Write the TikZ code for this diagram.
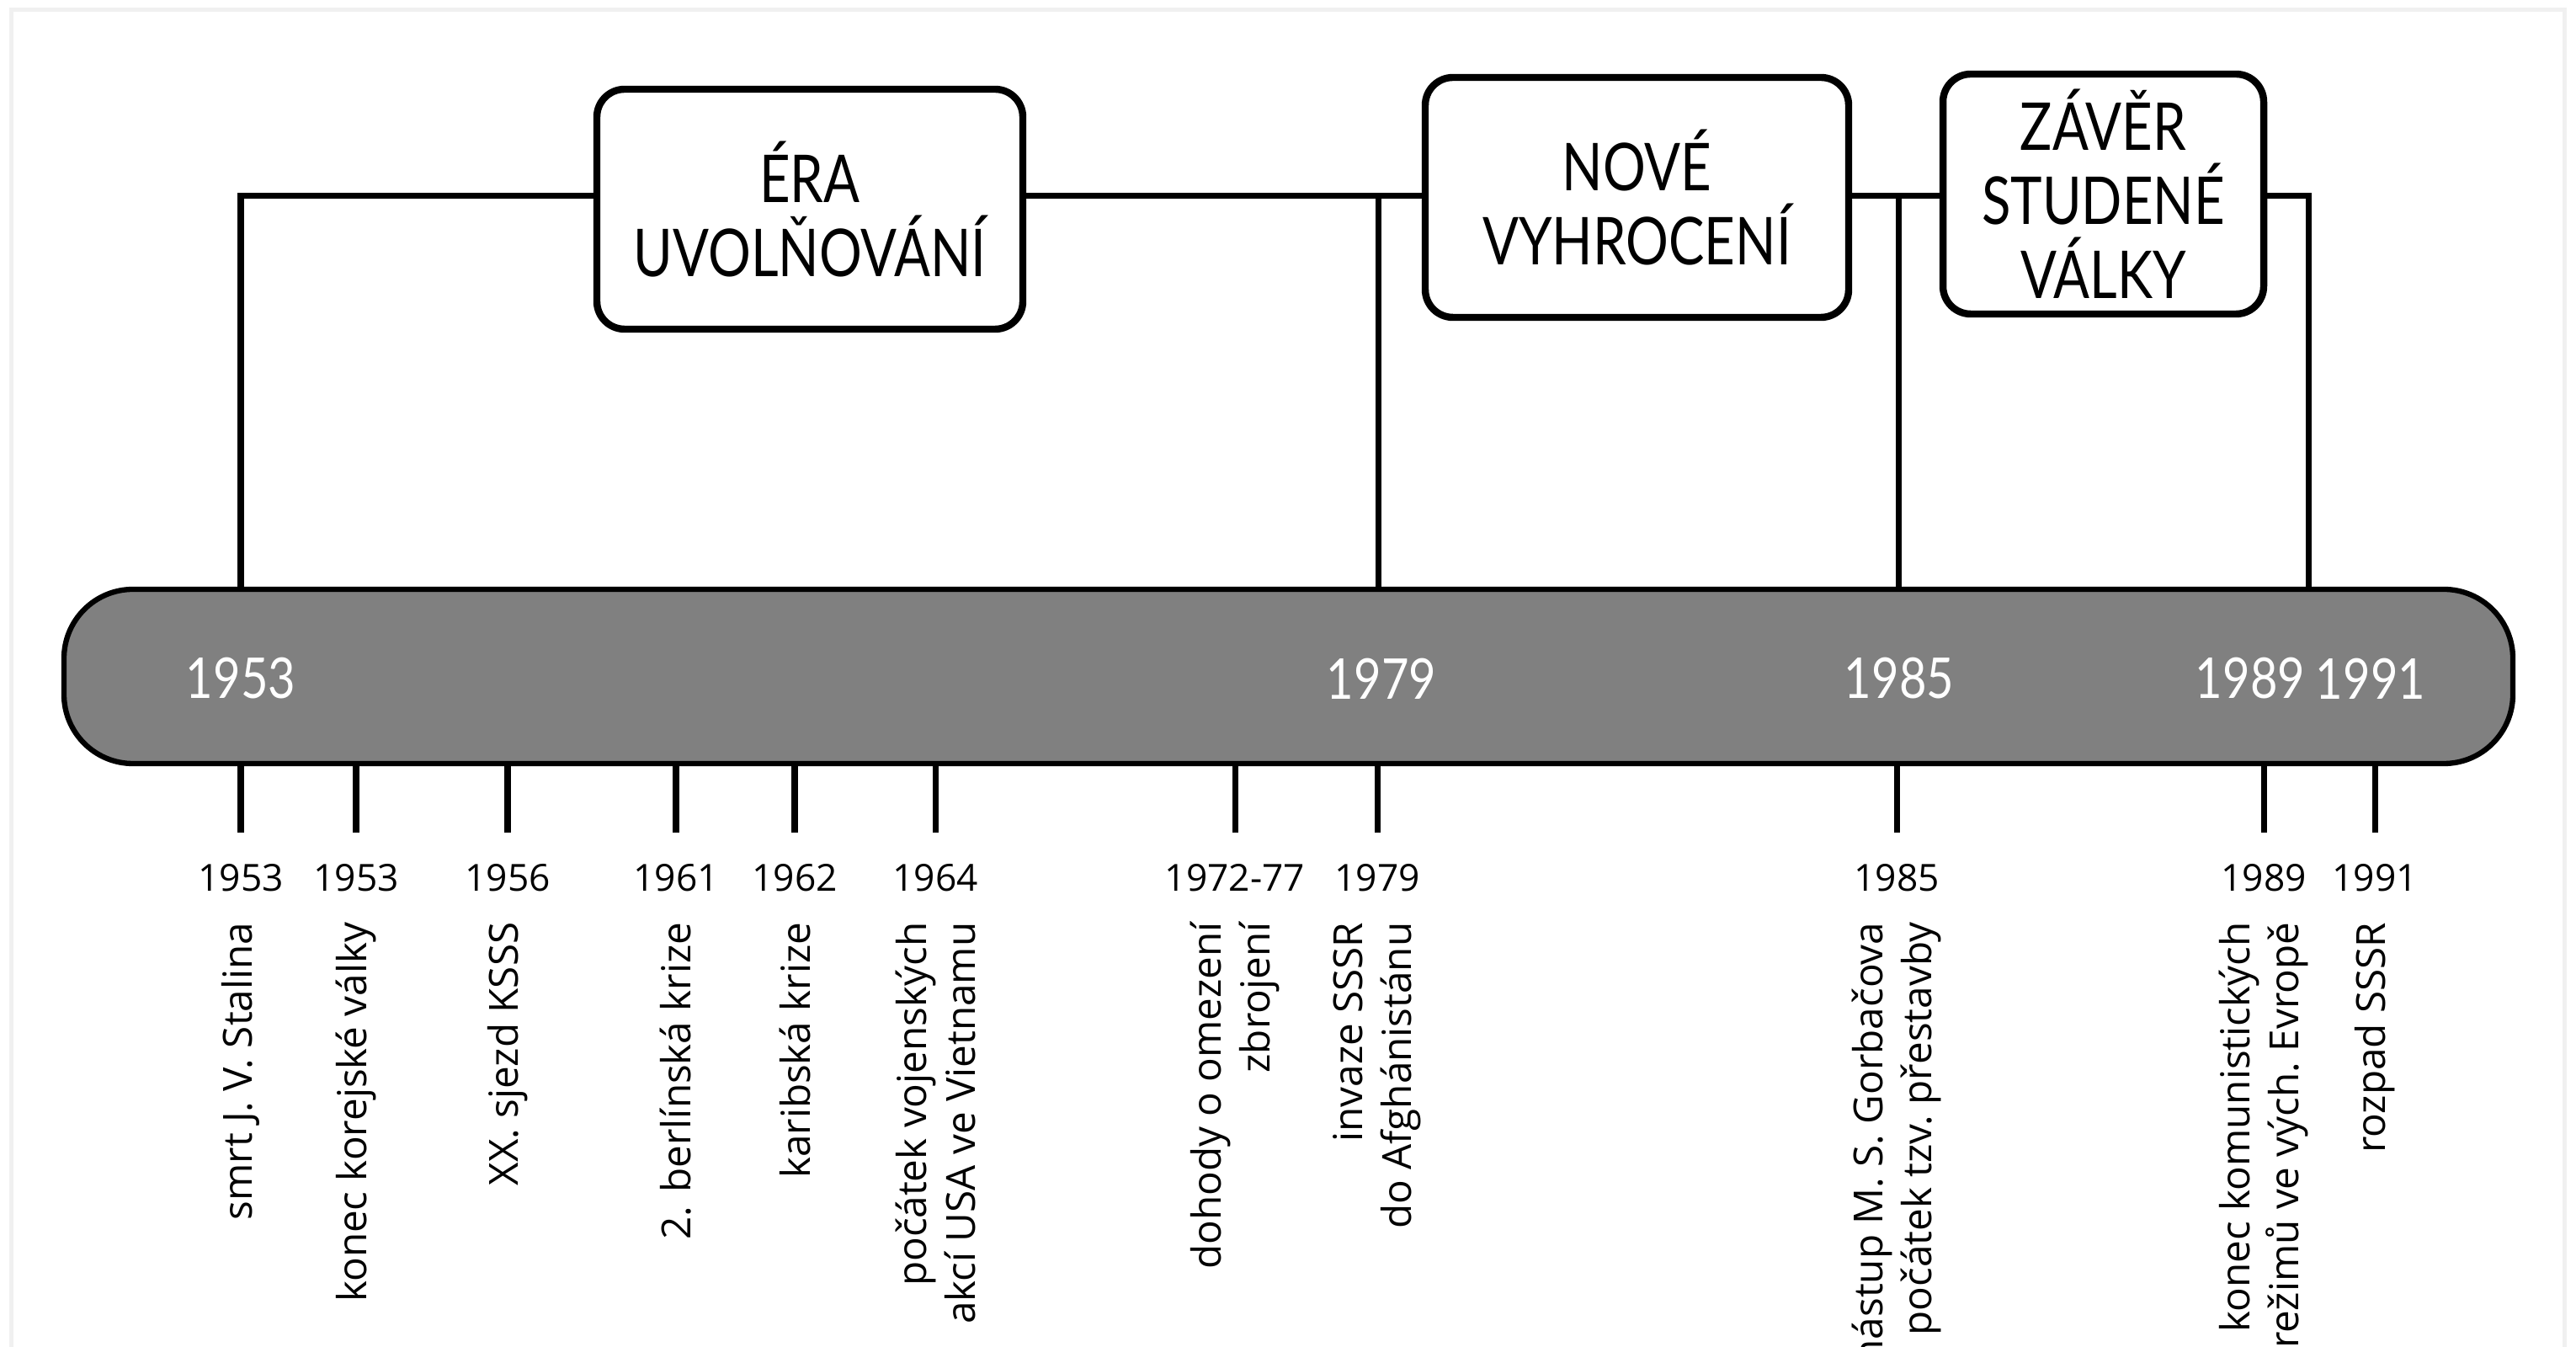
\documentclass[tikz,border=0pt]{standalone}
\usepackage{fontspec}
\setmainfont{Open Sans}
\newfontfamily\titlefont[FakeStretch=0.81]{Lato}
\newfontfamily\yearfont[FakeStretch=0.84]{Lato}
\tikzset{
  period/.style={draw, rounded corners=0.33cm, line width=2.4pt, fill=white,
    minimum width=#1, minimum height=2.85cm, align=center, inner sep=0pt,
    font=\titlefont\fontsize{22.3}{25}\selectfont},
  timebar/.style={draw, rounded corners=0.82cm, line width=1.8pt, fill=black!50,
    minimum width=29.09cm, minimum height=2.07cm},
  baryear/.style={text=white, inner sep=0pt, font=\yearfont\fontsize{19}{20}\selectfont},
  year/.style={inner sep=0pt, font=\fontsize{12.6}{14}\selectfont},
  event/.style={rotate=90, anchor=east, align=right, inner sep=0pt,
    font=\fontsize{13.55}{16.5}\selectfont},
  link/.style={line width=2pt},
  tick/.style={line width=2pt}
}
\begin{document}
\begin{tikzpicture}
    \useasboundingbox (0,0) rectangle (30.6,15.99);
    % frame
    \draw[black!6, line width=0.05cm] (0.135,-0.5) -- (0.135,15.87) -- (30.46,15.87) -- (30.46,-0.5);
    % bar and periods
    \node[timebar] (bar) at (15.305,7.955) {};
    \node[period=5.06cm] (era) at (9.62,13.505) {ÉRA\\UVOLŇOVÁNÍ};
    \node[period=5.03cm] (nove) at (19.445,13.645) {NOVÉ\\VYHROCENÍ};
    \node[period=3.81cm] (zaver) at (24.985,13.685) {ZÁVĚR\\STUDENÉ\\VÁLKY};
    \coordinate (u1953) at (2.86,13.66);
    \coordinate (u1979) at (16.37,13.66);
    \coordinate (u1985) at (22.55,13.66);
    \coordinate (u1989) at (27.42,13.66);
    \draw[link] (bar.north -| u1953) |- (era.west |- u1953);
    \draw[link] (era.east |- u1953) -- (nove.west |- u1953);
    \draw[link] (nove.east |- u1953) -- (zaver.west |- u1953);
    \draw[link] (zaver.east |- u1953) -| (bar.north -| u1989);
    \draw[link] (u1979) -- (bar.north -| u1979);
    \draw[link] (u1985) -- (bar.north -| u1985);
    % years in the bar
    \node[baryear] (b1953) at (2.86,7.93) {1953};
    \node[baryear] (b1979) at (16.41,7.93) {1979};
    \node[baryear] (b1985) at (22.56,7.93) {1985};
    \node[baryear] (b1989) at (26.73,7.93) {1989};
    \node[baryear] (b1991) at (28.16,7.93) {1991};
    % events
    \coordinate (k-stalin) at (2.86,6.10);
    \coordinate (k-korea) at (4.23,6.10);
    \coordinate (k-ksss) at (6.03,6.10);
    \coordinate (k-berlin) at (8.03,6.10);
    \coordinate (k-kariba) at (9.44,6.10);
    \coordinate (k-vietnam) at (11.11,6.10);
    \coordinate (k-dohody) at (14.67,6.10);
    \coordinate (k-afgh) at (16.36,6.10);
    \coordinate (k-gorb) at (22.53,6.10);
    \coordinate (k-konec) at (26.89,6.10);
    \coordinate (k-rozpad) at (28.21,6.10);
    \draw[tick] (bar.south -| k-stalin) -- (k-stalin);
    \draw[tick] (bar.south -| k-korea) -- (k-korea);
    \draw[tick] (bar.south -| k-ksss) -- (k-ksss);
    \draw[tick] (bar.south -| k-berlin) -- (k-berlin);
    \draw[tick] (bar.south -| k-kariba) -- (k-kariba);
    \draw[tick] (bar.south -| k-vietnam) -- (k-vietnam);
    \draw[tick] (bar.south -| k-dohody) -- (k-dohody);
    \draw[tick] (bar.south -| k-afgh) -- (k-afgh);
    \draw[tick] (bar.south -| k-gorb) -- (k-gorb);
    \draw[tick] (bar.south -| k-konec) -- (k-konec);
    \draw[tick] (bar.south -| k-rozpad) -- (k-rozpad);
    \node[year] (y-stalin) at (2.86,5.56) {1953};
    \node[year] (y-korea) at (4.23,5.56) {1953};
    \node[year] (y-ksss) at (6.03,5.56) {1956};
    \node[year] (y-berlin) at (8.03,5.56) {1961};
    \node[year] (y-kariba) at (9.44,5.56) {1962};
    \node[year] (y-vietnam) at (11.11,5.56) {1964};
    \node[year] (y-dohody) at (14.67,5.56) {1972-77};
    \node[year] (y-afgh) at (16.36,5.56) {1979};
    \node[year] (y-gorb) at (22.53,5.56) {1985};
    \node[year] (y-konec) at (26.89,5.56) {1989};
    \node[year] (y-rozpad) at (28.21,5.56) {1991};
    \node[event] (e-stalin) at (2.86,5.04) {smrt J.\ V.\ Stalina};
    \node[event] (e-korea) at (4.23,5.04) {konec korejské války};
    \node[event] (e-ksss) at (6.03,5.04) {XX. sjezd KSSS};
    \node[event] (e-berlin) at (8.03,5.04) {2. berlínská krize};
    \node[event] (e-kariba) at (9.44,5.04) {karibská krize};
    \node[event] (e-vietnam) at (11.11,5.04) {počátek vojenských\\akcí USA ve Vietnamu};
    \node[event] (e-dohody) at (14.67,5.04) {dohody o omezení\\zbrojení};
    \node[event] (e-afgh) at (16.36,5.04) {invaze SSSR\\do Afghánistánu};
    \node[event] (e-gorb) at (22.53,5.04) {nástup M.\ S.\ Gorbačova\\počátek tzv.\ přestavby};
    \node[event] (e-konec) at (26.89,5.04) {konec komunistických\\režimů ve vých.\ Evropě};
    \node[event] (e-rozpad) at (28.21,5.04) {rozpad SSSR};
\end{tikzpicture}
\end{document}
